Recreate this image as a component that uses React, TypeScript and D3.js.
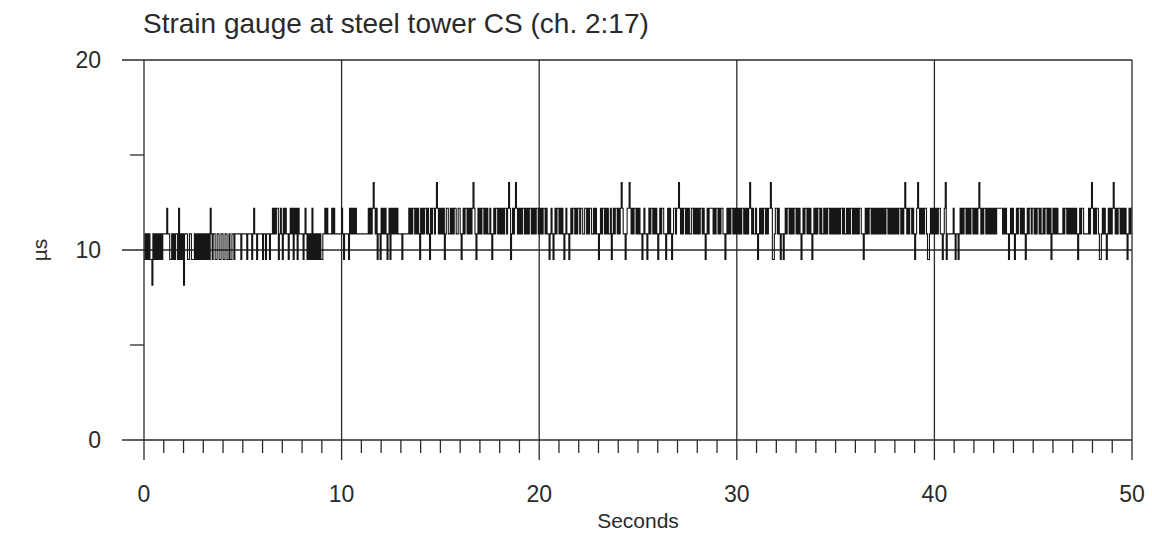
import React from "react";
import * as d3 from "d3";

// Quantized strain levels (µs)
const LEVELS = [8.15, 9.5, 10.85, 12.2, 13.55];
// Sample spacing in seconds
const T_STEP = 0.05;
// One row per second, one digit (index into LEVELS) per 0.05 s sample
const SIGNAL_ROWS = [
  "12121211021212121212", "22232211212122131212", "02221122111212121212",
  "12121213212211221122", "11221121122122222212", "22221222212322122222",
  "12212221223232331232", "13232212323132313222", "21232121213121212121",
  "12232322223232222222", "32122221323232322222", "22222223232343231221",
  "32323212313232323222", "21222222323233232321", "32323323213233234323",
  "23231233223232332233", "21232332323234321232", "32332323223212323323",
  "23232332343123234323", "23233232323323232332", "32323323221232123233",
  "23232123221232332323", "32332233232332232322", "12323323232231232332",
  "32343221233432323323", "23221232212323323232", "12323322123232123323",
  "34323233232322332323", "23233232123233332323", "32323322123232332323",
  "23232332323234323223", "21232323323233431123", "32321221232332323233",
  "23232123233232321232", "32332322323233232323", "23232332322323233232",
  "32323322123232332323", "23232323232332323232", "32323323234323233232",
  "12343232323321123232", "32323322123412222223", "21221232323323232332",
  "32323432323323232323", "23233333323232212323", "21232332323212323323",
  "32323323223233232312", "32323222223233232323", "23232123233222223234",
  "32323321123232123232", "34323233232323212323",
];

const X_MAJOR = [0, 10, 20, 30, 40, 50];
const X_MINOR = d3.range(0, 51).filter((v) => v % 10 !== 0);
const Y_MAJOR = [0, 10, 20];
const Y_MINOR = [5, 15];
const TITLE = "Strain gauge at steel tower CS (ch. 2:17)";
const X_LABEL = "Seconds";
const Y_LABEL = "µs";

type Pt = { t: number; v: number };

export default function App() {
  const W = 1152;
  const H = 533;
  const x = d3.scaleLinear().domain([0, 50]).range([144, 1132]);
  const y = d3.scaleLinear().domain([0, 20]).range([440, 60]);

  const pts: Pt[] = [];
  SIGNAL_ROWS.forEach((row, r) => {
    row.split("").forEach((c, i) => {
      pts.push({ t: r + i * T_STEP, v: LEVELS[+c] });
    });
  });
  pts.push({ t: 50, v: pts[pts.length - 1].v });

  const line = d3
    .line<Pt>()
    .x((d) => x(d.t))
    .y((d) => y(d.v))
    .curve(d3.curveStepAfter);

  const ink = "#2a2a2a";
  const font = "'Liberation Sans', Arial, Helvetica, sans-serif";
  const sw = 1.3;

  return (
    <svg
      width={W}
      height={H}
      viewBox={`0 0 ${W} ${H}`}
      style={{ position: "absolute", left: 0, top: 0, background: "#fff" }}
      fontFamily={font}
    >
      <rect x={0} y={0} width={W} height={H} fill="#fff" />
      {/* title */}
      <text x={143} y={33} fontSize={28} fill={ink}>
        {TITLE}
      </text>

      {/* horizontal major lines (ticks extend left) */}
      {Y_MAJOR.map((v) => (
        <line
          key={"hy" + v}
          x1={122}
          x2={x(50)}
          y1={y(v)}
          y2={y(v)}
          stroke={ink}
          strokeWidth={sw}
        />
      ))}
      {Y_MINOR.map((v) => (
        <line
          key={"my" + v}
          x1={130}
          x2={x(0)}
          y1={y(v)}
          y2={y(v)}
          stroke={ink}
          strokeWidth={sw}
        />
      ))}
      {/* vertical major lines (ticks extend below) */}
      {X_MAJOR.map((v) => (
        <line
          key={"vx" + v}
          x1={x(v)}
          x2={x(v)}
          y1={y(20)}
          y2={y(0) + 20}
          stroke={ink}
          strokeWidth={sw}
        />
      ))}
      {X_MINOR.map((v) => (
        <line
          key={"mx" + v}
          x1={x(v)}
          x2={x(v)}
          y1={y(0)}
          y2={y(0) + 13}
          stroke={ink}
          strokeWidth={sw}
        />
      ))}

      {/* signal */}
      <path d={line(pts) || ""} fill="none" stroke="#161616" strokeWidth={1.1} />

      {/* tick labels */}
      {Y_MAJOR.map((v) => (
        <text
          key={"ly" + v}
          x={101}
          y={y(v) + 8}
          fontSize={23}
          textAnchor="end"
          fill={ink}
        >
          {v}
        </text>
      ))}
      {X_MAJOR.map((v) => (
        <text
          key={"lx" + v}
          x={x(v)}
          y={502}
          fontSize={23}
          textAnchor="middle"
          fill={ink}
        >
          {v}
        </text>
      ))}
      <text x={638} y={528} fontSize={21} textAnchor="middle" fill={ink}>
        {X_LABEL}
      </text>
      <text
        transform={`translate(47, 250) rotate(-90)`}
        fontSize={21}
        textAnchor="middle"
        fill={ink}
      >
        {Y_LABEL}
      </text>
    </svg>
  );
}
